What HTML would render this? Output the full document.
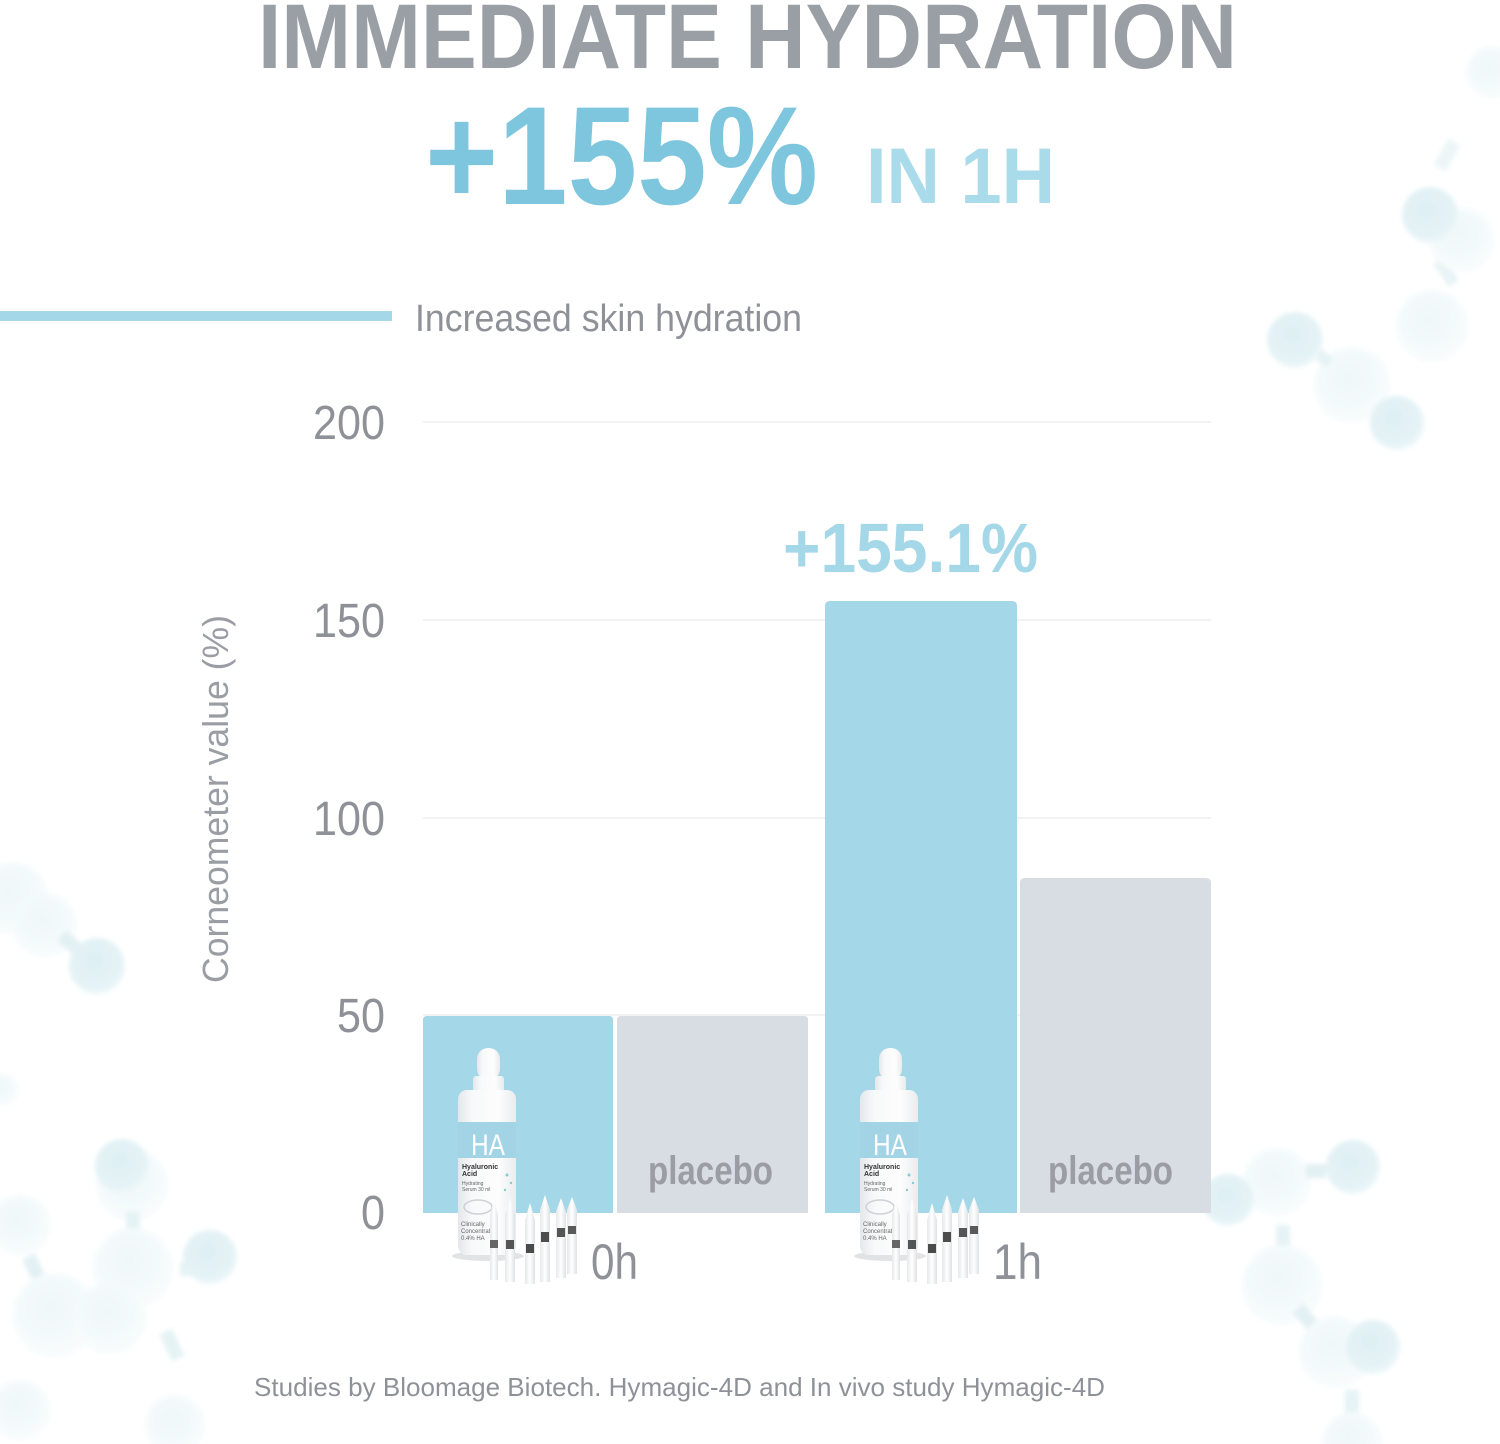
<!DOCTYPE html>
<html><head><meta charset="utf-8"><style>
html,body{margin:0;padding:0;background:#fff;}
svg{display:block;}
</style></head><body>
<svg width="1500" height="1444" viewBox="0 0 1500 1444" xmlns="http://www.w3.org/2000/svg">
<defs>
<radialGradient id="ms" cx="45%" cy="40%" r="60%"><stop offset="0" stop-color="#d6ecf1"/><stop offset="0.8" stop-color="#dff0f4"/><stop offset="1" stop-color="#eaf6f8"/></radialGradient>
<radialGradient id="mf" cx="45%" cy="40%" r="60%"><stop offset="0" stop-color="#ecf6f8"/><stop offset="1" stop-color="#f6fbfc"/></radialGradient>
<filter id="bl" x="-30%" y="-30%" width="160%" height="160%"><feGaussianBlur stdDeviation="2"/></filter>
<linearGradient id="bot" x1="0" x2="1"><stop offset="0" stop-color="#e4e7ea"/><stop offset="0.25" stop-color="#f8f9fa"/><stop offset="0.7" stop-color="#fdfdfd"/><stop offset="1" stop-color="#e9ecee"/></linearGradient>
<linearGradient id="amp" x1="0" x2="1"><stop offset="0" stop-color="#e6e8ea"/><stop offset="0.5" stop-color="#ffffff"/><stop offset="1" stop-color="#dfe2e4"/></linearGradient>
<g id="product">
  <ellipse cx="488" cy="1256" rx="36" ry="5" fill="#d5d7d9" opacity="0.7"/>
  <rect x="477" y="1048" width="23" height="32" rx="11" fill="url(#bot)"/>
  <rect x="473" y="1076" width="31" height="16" rx="3" fill="url(#bot)"/>
  <rect x="458" y="1090" width="58" height="165" rx="9" fill="url(#bot)"/>
  <rect x="458" y="1122" width="58" height="36" fill="#a2d4e6"/>
  <text x="471" y="1155" font-family="Liberation Sans, sans-serif" font-size="30" fill="#ffffff" textLength="34" lengthAdjust="spacingAndGlyphs">HA</text>
  <text x="462" y="1169" font-family="Liberation Sans, sans-serif" font-weight="bold" font-size="7" fill="#333">Hyaluronic</text>
  <text x="462" y="1176" font-family="Liberation Sans, sans-serif" font-weight="bold" font-size="7" fill="#333">Acid</text>
  <text x="462" y="1185" font-family="Liberation Sans, sans-serif" font-size="5" fill="#666">Hydrating</text>
  <text x="462" y="1191" font-family="Liberation Sans, sans-serif" font-size="5" fill="#666">Serum 30 ml</text>
  <ellipse cx="478" cy="1207" rx="14" ry="7" fill="none" stroke="#cdd2d6" stroke-width="1.5"/>
  <text x="461" y="1226" font-family="Liberation Sans, sans-serif" font-size="6" fill="#666">Clinically</text>
  <text x="461" y="1233" font-family="Liberation Sans, sans-serif" font-size="6" fill="#666">Concentrat</text>
  <text x="461" y="1240" font-family="Liberation Sans, sans-serif" font-size="6" fill="#666">0.4% HA</text>
  <circle cx="507" cy="1175" r="1.5" fill="#8cc"/><circle cx="511" cy="1183" r="1.2" fill="#8cc"/><circle cx="505" cy="1190" r="1.2" fill="#8cc"/>
  <g>
    <path d="M490 1280 L490 1215 L494 1200 L498 1215 L498 1280 Z" fill="url(#amp)"/>
    <rect x="490" y="1240" width="8" height="8" fill="#666"/>
    <path d="M505 1282 L505 1215 L510 1198 L515 1215 L515 1282 Z" fill="url(#amp)"/>
    <rect x="506" y="1240" width="8" height="9" fill="#555"/>
    <path d="M525 1284 L525 1220 L530 1203 L535 1220 L535 1284 Z" fill="url(#amp)"/>
    <rect x="526" y="1244" width="8" height="9" fill="#4a4a4a"/>
    <path d="M540 1282 L540 1210 L545 1195 L550 1210 L550 1282 Z" fill="url(#amp)"/>
    <rect x="541" y="1232" width="8" height="10" fill="#4d4d4d"/>
    <path d="M556 1278 L556 1212 L561 1198 L566 1212 L566 1278 Z" fill="url(#amp)"/>
    <rect x="557" y="1228" width="8" height="9" fill="#555"/>
    <path d="M567 1274 L567 1210 L572 1197 L577 1210 L577 1274 Z" fill="url(#amp)"/>
    <rect x="568" y="1226" width="8" height="8" fill="#5a5a5a"/>
  </g>
</g>
</defs>

<!-- molecules -->
<g filter="url(#bl)" opacity="0.8">
  <!-- top right -->
  <circle cx="1492" cy="72" r="26" fill="url(#mf)"/>
  <rect x="1440" y="258" width="12" height="28" fill="#e2f1f4" transform="rotate(-35 1446 272)"/>
  <circle cx="1462" cy="240" r="32" fill="url(#mf)"/>
  <circle cx="1430" cy="215" r="28" fill="url(#ms)"/>
  <rect x="1440" y="140" width="14" height="30" fill="#e8f4f6" transform="rotate(30 1447 155)"/>
  <circle cx="1432" cy="326" r="36" fill="url(#mf)"/>
  <circle cx="1352" cy="385" r="38" fill="url(#mf)"/>
  <rect x="1315" y="345" width="12" height="22" fill="#e0f0f3" transform="rotate(-50 1321 356)"/>
  <circle cx="1295" cy="340" r="28" fill="url(#ms)"/>
  <circle cx="1397" cy="423" r="27" fill="url(#ms)"/>
  <!-- left middle -->
  <circle cx="12" cy="898" r="36" fill="url(#mf)"/>
  <circle cx="45" cy="925" r="32" fill="url(#mf)"/>
  <rect x="62" y="932" width="14" height="20" fill="#dcedf1" transform="rotate(-50 69 942)"/>
  <circle cx="97" cy="966" r="28" fill="url(#ms)"/>
  <circle cx="2" cy="1090" r="16" fill="url(#mf)"/>
  <!-- bottom left -->
  <circle cx="132" cy="1185" r="36" fill="url(#mf)"/>
  <circle cx="122" cy="1166" r="27" fill="url(#ms)"/>
  <rect x="126" y="1212" width="14" height="32" fill="#e0f0f3"/>
  <circle cx="20" cy="1225" r="30" fill="url(#mf)"/>
  <rect x="28" y="1255" width="14" height="30" fill="#dcedf1" transform="rotate(-25 35 1270)"/>
  <circle cx="133" cy="1268" r="40" fill="url(#mf)"/>
  <rect x="180" y="1262" width="16" height="14" fill="#e0f0f3"/>
  <circle cx="210" cy="1257" r="27" fill="url(#ms)"/>
  <circle cx="55" cy="1315" r="42" fill="url(#mf)"/>
  <circle cx="110" cy="1318" r="36" fill="url(#mf)"/>
  <rect x="165" y="1330" width="14" height="30" fill="#e0f0f3" transform="rotate(-25 172 1345)"/>
  <circle cx="20" cy="1410" r="30" fill="url(#mf)"/>
  <circle cx="175" cy="1425" r="30" fill="url(#mf)"/>
  <!-- bottom right -->
  <circle cx="1277" cy="1182" r="34" fill="url(#mf)"/>
  <circle cx="1228" cy="1200" r="26" fill="url(#ms)"/>
  <rect x="1306" y="1164" width="20" height="14" fill="#dcedf1"/>
  <circle cx="1353" cy="1167" r="27" fill="url(#ms)"/>
  <rect x="1276" y="1225" width="14" height="30" fill="#e0f0f3"/>
  <circle cx="1282" cy="1285" r="40" fill="url(#mf)"/>
  <rect x="1300" y="1305" width="14" height="28" fill="#dcedf1" transform="rotate(-40 1307 1319)"/>
  <circle cx="1335" cy="1352" r="36" fill="url(#mf)"/>
  <circle cx="1373" cy="1347" r="27" fill="url(#ms)"/>
  <rect x="1345" y="1390" width="14" height="30" fill="#e0f0f3"/>
  <circle cx="1352" cy="1442" r="30" fill="url(#mf)"/>
</g>

<!-- title -->
<text x="258" y="68" font-family="Liberation Sans, sans-serif" font-weight="bold" font-size="92" fill="#9a9ea5" textLength="979" lengthAdjust="spacingAndGlyphs">IMMEDIATE HYDRATION</text>
<text x="425" y="204" font-family="Liberation Sans, sans-serif" font-weight="bold" font-size="140" fill="#7ec6dd" textLength="393" lengthAdjust="spacingAndGlyphs">+155%</text>
<text x="866" y="203" font-family="Liberation Sans, sans-serif" font-weight="bold" font-size="79" fill="#a9dbea" textLength="189" lengthAdjust="spacingAndGlyphs">IN 1H</text>

<!-- subtitle -->
<rect x="0" y="311" width="392" height="10" fill="#a4d8e9"/>
<text x="415" y="331" font-family="Liberation Sans, sans-serif" font-size="38" fill="#8e9298" textLength="387" lengthAdjust="spacingAndGlyphs">Increased skin hydration</text>

<!-- gridlines -->
<g stroke="#eceef0" stroke-width="1.5">
  <line x1="423" y1="422" x2="1211" y2="422"/>
  <line x1="423" y1="620" x2="1211" y2="620"/>
  <line x1="423" y1="818" x2="1211" y2="818"/>
  <line x1="423" y1="1015" x2="1211" y2="1015"/>
</g>

<!-- tick labels -->
<g font-family="Liberation Sans, sans-serif" font-size="48" fill="#8e9298" text-anchor="end">
  <text x="385" y="439" textLength="72" lengthAdjust="spacingAndGlyphs">200</text>
  <text x="385" y="637" textLength="72" lengthAdjust="spacingAndGlyphs">150</text>
  <text x="385" y="835" textLength="72" lengthAdjust="spacingAndGlyphs">100</text>
  <text x="385" y="1032" textLength="48" lengthAdjust="spacingAndGlyphs">50</text>
  <text x="385" y="1229" textLength="24" lengthAdjust="spacingAndGlyphs">0</text>
</g>

<!-- y axis label -->
<text transform="translate(228,983) rotate(-90)" x="0" y="0" font-family="Liberation Sans, sans-serif" font-size="36" fill="#9a9ea4" textLength="368" lengthAdjust="spacingAndGlyphs">Corneometer value (%)</text>

<!-- bars -->
<path d="M423 1213 L423 1020 Q423 1016 427 1016 L609 1016 Q613 1016 613 1020 L613 1213 Z" fill="#a4d8e8"/>
<path d="M617 1213 L617 1020 Q617 1016 621 1016 L804 1016 Q808 1016 808 1020 L808 1213 Z" fill="#d8dde4"/>
<path d="M825 1213 L825 606 Q825 601 830 601 L1012 601 Q1017 601 1017 606 L1017 1213 Z" fill="#a4d8e8"/>
<path d="M1020 1213 L1020 883 Q1020 878 1025 878 L1206 878 Q1211 878 1211 883 L1211 1213 Z" fill="#d8dde4"/>

<text x="783" y="572" font-family="Liberation Sans, sans-serif" font-weight="bold" font-size="70" fill="#a4d8e8" textLength="255" lengthAdjust="spacingAndGlyphs">+155.1%</text>

<g font-family="Liberation Sans, sans-serif" font-weight="bold" font-size="40" fill="#9a9ea4">
  <text x="648" y="1184" textLength="125" lengthAdjust="spacingAndGlyphs">placebo</text>
  <text x="1048" y="1184" textLength="125" lengthAdjust="spacingAndGlyphs">placebo</text>
</g>

<!-- products -->
<use href="#product"/>
<use href="#product" transform="translate(402,0)"/>

<!-- x labels -->
<g font-family="Liberation Sans, sans-serif" font-size="50" fill="#8e9298">
  <text x="591" y="1279" textLength="47" lengthAdjust="spacingAndGlyphs">0h</text>
  <text x="993" y="1279" textLength="49" lengthAdjust="spacingAndGlyphs">1h</text>
</g>

<!-- footer -->
<text x="254" y="1396" font-family="Liberation Sans, sans-serif" font-size="26" fill="#8e9298" textLength="851" lengthAdjust="spacingAndGlyphs">Studies by Bloomage Biotech. Hymagic-4D and In vivo study Hymagic-4D</text>
</svg>
</body></html>
